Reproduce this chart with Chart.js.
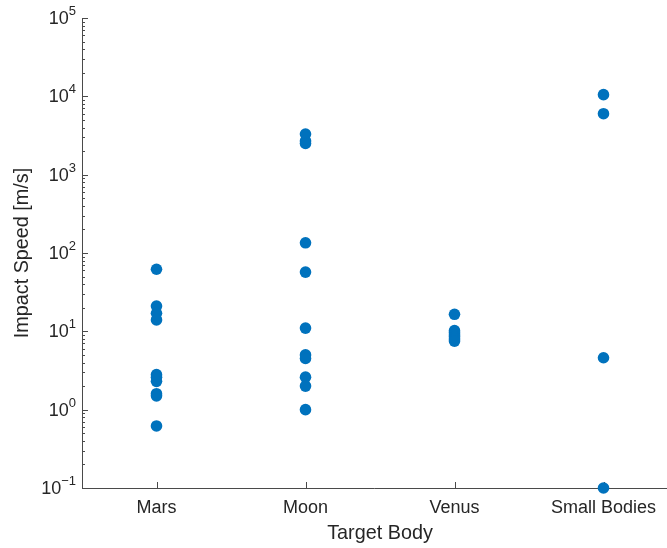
<!DOCTYPE html>
<html>
<head>
<meta charset="utf-8">
<script src="https://cdn.jsdelivr.net/npm/chart.js@4/dist/chart.umd.min.js"></script>
<style>
  html, body { margin: 0; padding: 0; background: #fff; }
  #wrap { width: 667px; height: 548px; }
</style>
</head>
<body>
<div id="wrap"><canvas id="c" width="667" height="548"></canvas></div>
<script>
// Target bodies along the x axis
const bodies = ['Mars', 'Moon', 'Venus', 'Small Bodies'];

// Impact speeds [m/s] per target body
const marsSpeeds = [62, 21, 17, 14, 2.8, 2.6, 2.3, 1.6, 1.5, 0.62];
const moonSpeeds = [3300, 2700, 2500, 135, 57, 11, 5.0, 4.5, 2.6, 2.0, 1.0];
const venusSpeeds = [16.5, 10.2, 9.6, 9.0, 8.5, 8.0, 7.5];
const smallBodySpeeds = [10500, 6000, 4.6, 0.1];

// Decade tick exponents on the log y axis
const yExponents = [-1, 0, 1, 2, 3, 4, 5];

const groups = [marsSpeeds, moonSpeeds, venusSpeeds, smallBodySpeeds];
const points = [];
groups.forEach((vals, i) => vals.forEach(v => points.push({ x: i + 1, y: v })));

const ink = '#262626';
const axisCol = '#4a4a4a';
const fontFam = '"Liberation Sans", Arial, Helvetica, sans-serif';

// Draws MATLAB-style axes: inward ticks, superscript decade labels, titles
const axesPlugin = {
  id: 'matlabAxes',
  beforeDatasetsDraw(chart) {
    const { ctx, chartArea: a, scales: { x, y } } = chart;
    ctx.save();
    ctx.strokeStyle = axisCol;
    ctx.lineWidth = 1;
    // axis lines
    ctx.beginPath();
    ctx.moveTo(a.left + 0.5, a.top);
    ctx.lineTo(a.left + 0.5, a.bottom + 0.5);
    ctx.lineTo(chart.width, a.bottom + 0.5);
    ctx.stroke();
    // y ticks (major + minor), inward
    ctx.beginPath();
    for (let e = yExponents[0]; e < yExponents[yExponents.length - 1]; e++) {
      for (let m = 1; m <= 9; m++) {
        const v = m * Math.pow(10, e);
        const py = Math.round(y.getPixelForValue(v)) + 0.5;
        const len = m === 1 ? 6 : 3;
        ctx.moveTo(a.left, py);
        ctx.lineTo(a.left + len, py);
      }
    }
    const topPy = Math.round(y.getPixelForValue(Math.pow(10, yExponents[yExponents.length - 1]))) + 0.5;
    ctx.moveTo(a.left, topPy);
    ctx.lineTo(a.left + 6, topPy);
    // x ticks, inward
    bodies.forEach((b, i) => {
      const px = Math.round(x.getPixelForValue(i + 1)) + 0.5;
      ctx.moveTo(px, a.bottom);
      ctx.lineTo(px, a.bottom - 6);
    });
    ctx.stroke();

    // y tick labels as 10 with superscript exponent
    ctx.fillStyle = ink;
    const baseFont = '18px ' + fontFam;
    const supFont = '13px ' + fontFam;
    yExponents.forEach(e => {
      const py = y.getPixelForValue(Math.pow(10, e));
      const exp = String(e).replace('-', '\u2212');
      ctx.font = supFont;
      const ew = ctx.measureText(exp).width;
      ctx.font = baseFont;
      const bw = ctx.measureText('10').width;
      const right = a.left - 6;
      ctx.textAlign = 'left';
      ctx.textBaseline = 'middle';
      ctx.fillText('10', right - ew - bw, py + 1);
      ctx.font = supFont;
      ctx.textBaseline = 'alphabetic';
      ctx.fillText(exp, right - ew, py - 3);
    });

    // x tick labels
    ctx.font = baseFont;
    ctx.textAlign = 'center';
    ctx.textBaseline = 'middle';
    bodies.forEach((b, i) => {
      ctx.fillText(b, x.getPixelForValue(i + 1), a.bottom + 20);
    });

    // axis titles
    ctx.font = '19.8px ' + fontFam;
    ctx.fillText('Target Body', x.getPixelForValue(2.5), a.bottom + 46);
    ctx.save();
    ctx.translate(23, (a.top + a.bottom) / 2);
    ctx.rotate(-Math.PI / 2);
    ctx.fillText('Impact Speed [m/s]', 0, 0);
    ctx.restore();
    ctx.restore();
  }
};

new Chart(document.getElementById('c'), {
  type: 'scatter',
  data: {
    datasets: [{
      data: points,
      backgroundColor: '#0072BD',
      borderColor: '#0072BD',
      pointRadius: 5.8,
      pointHoverRadius: 5.8,
      borderWidth: 0,
      clip: false
    }]
  },
  options: {
    responsive: false,
    animation: false,
    events: [],
    layout: { autoPadding: false, padding: { top: 18, right: 0, left: 0, bottom: 0 } },
    plugins: { legend: { display: false }, tooltip: { enabled: false } },
    scales: {
      x: {
        type: 'linear',
        min: 0.5,
        max: 0.5 + 585 / 149,
        ticks: { display: false },
        grid: { display: false },
        border: { display: false },
        afterFit: s => { s.height = 60; s.paddingLeft = 0; s.paddingRight = 0; }
      },
      y: {
        type: 'logarithmic',
        min: 0.1,
        max: 1e5,
        ticks: { display: false },
        grid: { display: false },
        border: { display: false },
        afterFit: s => { s.width = 82; s.paddingTop = 0; s.paddingBottom = 0; }
      }
    }
  },
  plugins: [axesPlugin]
});
</script>
</body>
</html>
